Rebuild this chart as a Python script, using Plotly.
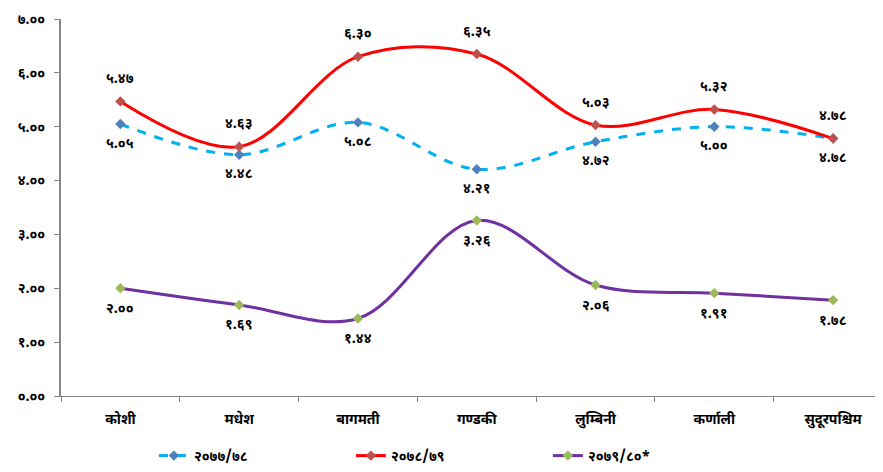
import plotly.graph_objects as go

DEV = str.maketrans('0123456789', '०१२३४५६७८९')


def dev(s):
    return s.translate(DEV)


provinces = ['कोशी', 'मधेश', 'बागमती', 'गण्डकी', 'लुम्बिनी', 'कर्णाली', 'सुदूरपश्चिम']
fy_77_78 = [5.05, 4.48, 5.08, 4.21, 4.72, 5.00, 4.78]
fy_78_79 = [5.47, 4.63, 6.30, 6.35, 5.03, 5.32, 4.78]
fy_79_80 = [2.00, 1.69, 1.44, 3.26, 2.06, 1.91, 1.78]
y_ticks = [0, 1, 2, 3, 4, 5, 6, 7]

FONT = 'Noto Sans Devanagari, Noto Sans, sans-serif'

# name, values, line colour, marker colour, dash, label shift (px)
series = [
    ('२०७७/७८', fy_77_78, '#00B0F0', '#4F81BD', 'dash', -20),
    ('२०७८/७९', fy_78_79, '#FF0000', '#C0504D', 'solid', 22),
    ('२०७९/८०*', fy_79_80, '#7030A0', '#9BBB59', 'solid', -21),
]

fig = go.Figure()
for name, vals, line_col, mk_col, dash, shift in series:
    fig.add_trace(go.Scatter(
        x=provinces,
        y=vals,
        name=name,
        mode='lines+markers',
        line=dict(color=line_col, width=3, dash=dash, shape='spline', smoothing=1),
        marker=dict(symbol='diamond', size=8, color=mk_col),
        cliponaxis=False
    ))
    # value labels above / below each point
    for p, v in zip(provinces, vals):
        fig.add_annotation(
            x=p, y=v,
            text=dev(f'{v:.2f}'),
            showarrow=False,
            yshift=shift,
            font=dict(size=14, color='black', family=FONT, weight='bold')
        )

# page body has an 8px margin, so the figure is a bit smaller than the window
fig.update_layout(
    width=875,
    height=464,
    margin=dict(l=53, r=0, t=11, b=71),
    plot_bgcolor='white',
    paper_bgcolor='white',
    font=dict(family=FONT, size=13, color='black'),
    showlegend=True,
    legend=dict(
        orientation='h',
        x=0.113, xref='paper', xanchor='left',
        y=-0.16, yanchor='middle',
        entrywidth=152,
        font=dict(size=14, color='black', weight='bold')
    ),
    xaxis=dict(
        type='category',
        range=[-0.5, 6.42],
        automargin=False,
        showline=True,
        linecolor='#868686',
        linewidth=1,
        ticks='outside',
        tickson='boundaries',
        ticklen=5,
        tickcolor='#868686',
        ticklabelstandoff=10,
        showgrid=False,
        tickfont=dict(size=14, color='black', family=FONT, weight='bold')
    ),
    yaxis=dict(
        range=[0, 7],
        automargin=False,
        tickvals=y_ticks,
        ticktext=[dev(f'{v:.2f}') for v in y_ticks],
        showline=True,
        linecolor='#868686',
        linewidth=2,
        ticks='outside',
        ticklen=5,
        tickcolor='#868686',
        ticklabelstandoff=6,
        showgrid=False,
        zeroline=False,
        tickfont=dict(size=14, color='black', family=FONT, weight='bold')
    )
)

fig.write_html('out.html')
